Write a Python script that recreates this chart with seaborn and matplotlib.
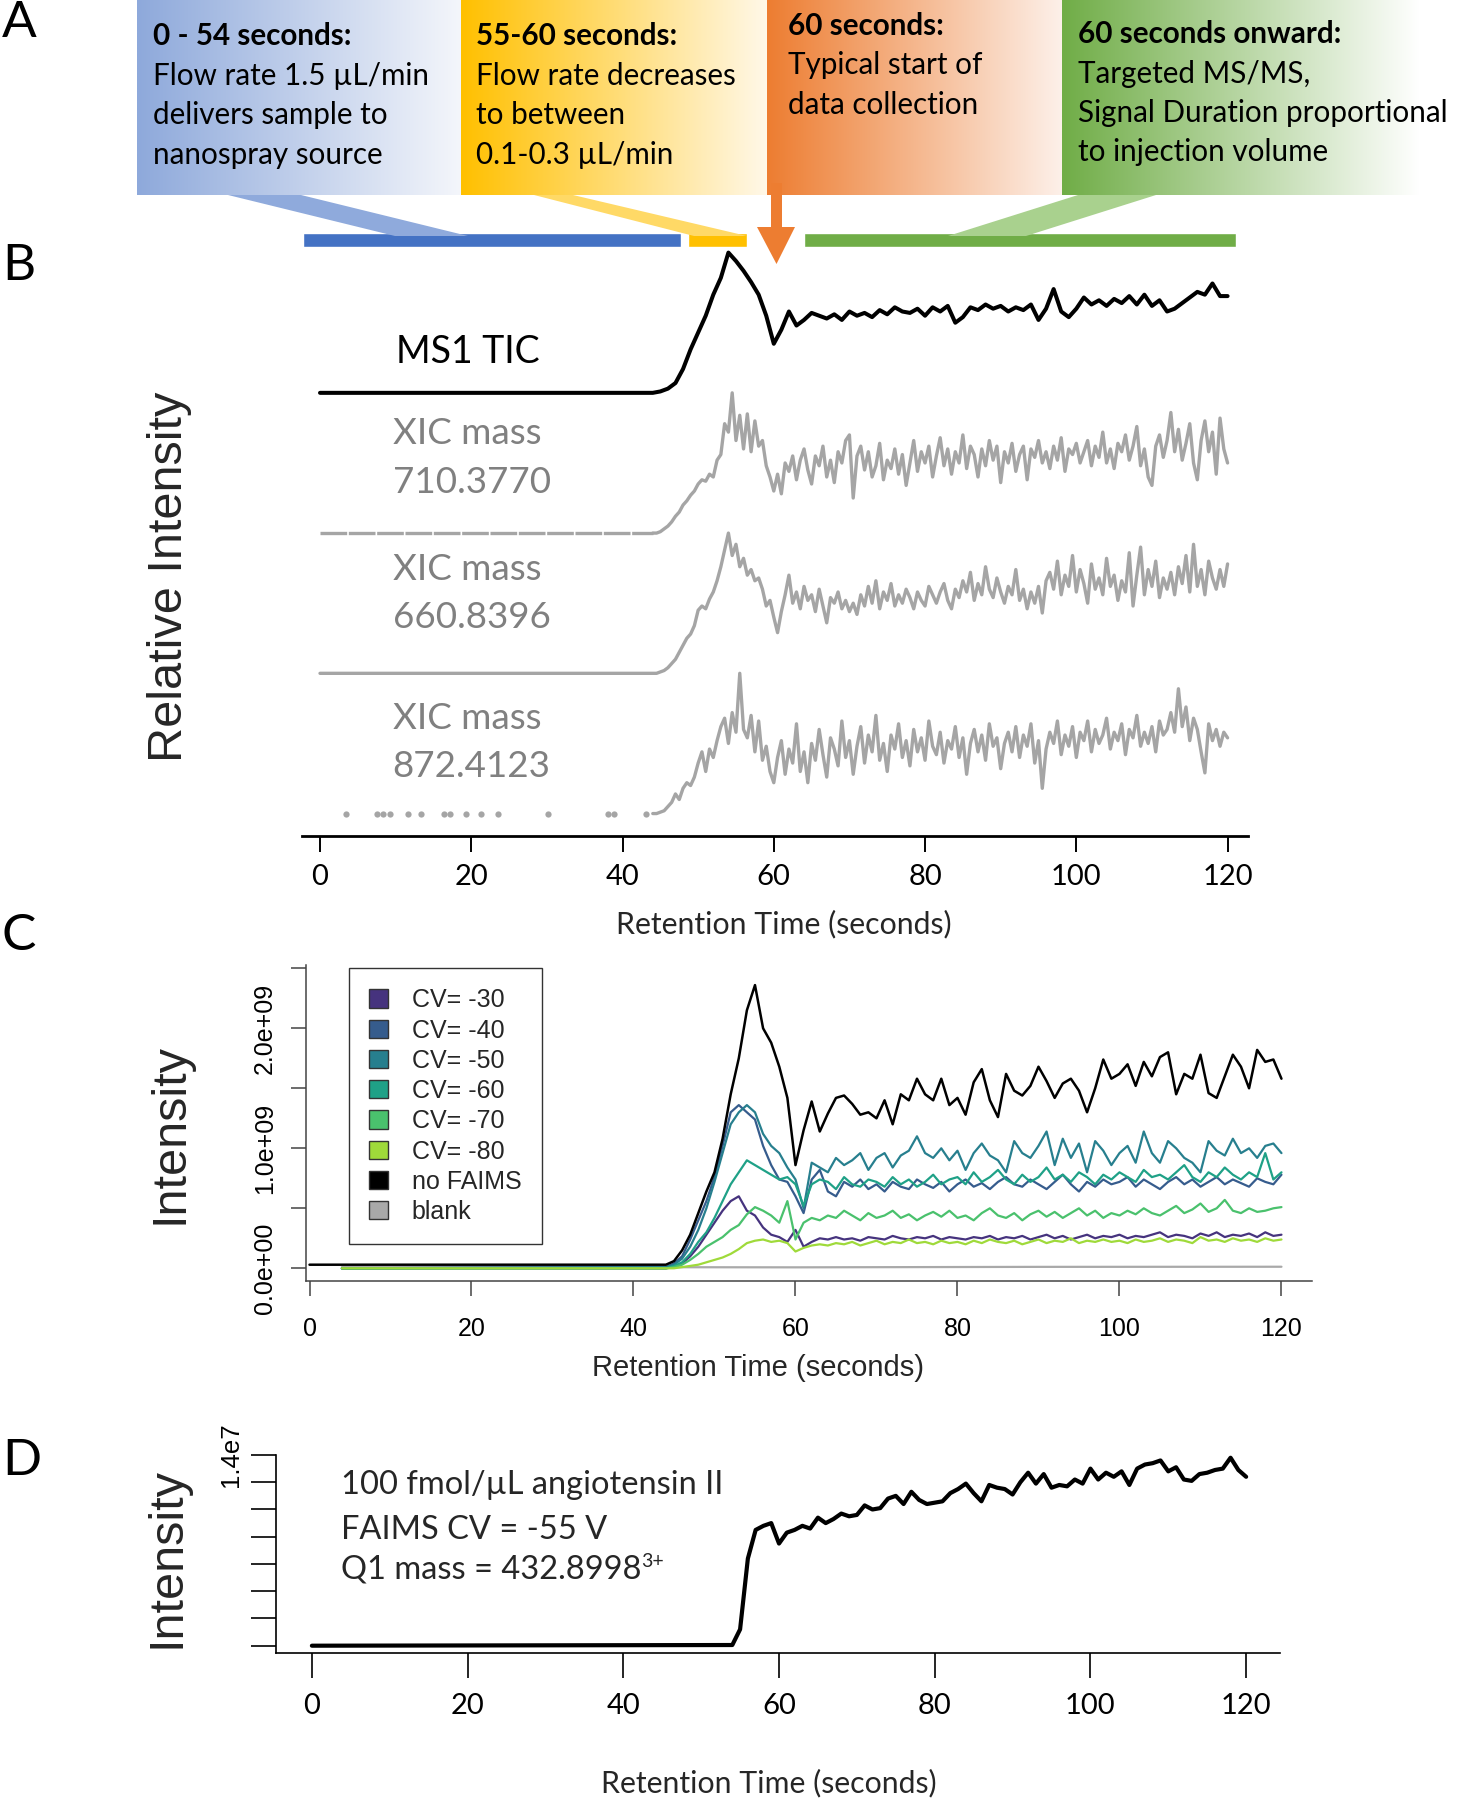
import numpy as np
import matplotlib
matplotlib.use("Agg")
import matplotlib.pyplot as plt
import matplotlib.colors as mcolors
from matplotlib.patches import Patch, Polygon
import seaborn as sns

# -----------------------------
# Data
# -----------------------------
# Panel B: relative intensity, every trace scaled to its own maximum
# TIC sampled every 1 s from 44 s, XICs every 0.5 s from 44 s (flat before)
tic_ms1 = [0.00, 0.01, 0.03, 0.07, 0.17, 0.31, 0.43, 0.55, 0.70, 0.82,
           1.00, 0.94, 0.87, 0.79, 0.70, 0.55, 0.35, 0.45, 0.58, 0.48,
           0.52, 0.57, 0.55, 0.53, 0.56, 0.52, 0.58, 0.55, 0.57, 0.54,
           0.59, 0.56, 0.61, 0.58, 0.57, 0.60, 0.55, 0.61, 0.58, 0.62,
           0.50, 0.54, 0.61, 0.59, 0.63, 0.60, 0.62, 0.58, 0.61, 0.59,
           0.63, 0.52, 0.60, 0.74, 0.58, 0.54, 0.60, 0.68, 0.63, 0.66,
           0.62, 0.67, 0.64, 0.69, 0.63, 0.70, 0.62, 0.66, 0.58, 0.60,
           0.64, 0.68, 0.72, 0.70, 0.78, 0.69, 0.69]

xic_710 = [0.00, 0.00, 0.01, 0.03, 0.05, 0.08, 0.12, 0.15, 0.20, 0.23,
           0.27, 0.30, 0.35, 0.38, 0.37, 0.42, 0.40, 0.52, 0.56, 0.78,
           0.72, 1.00, 0.66, 0.84, 0.60, 0.85, 0.58, 0.80, 0.62, 0.66,
           0.48, 0.40, 0.30, 0.42, 0.28, 0.50, 0.44, 0.55, 0.38, 0.52,
           0.60, 0.45, 0.35, 0.55, 0.48, 0.62, 0.40, 0.52, 0.36, 0.58,
           0.50, 0.66, 0.70, 0.25, 0.55, 0.62, 0.45, 0.58, 0.40, 0.48,
           0.64, 0.38, 0.52, 0.46, 0.60, 0.42, 0.56, 0.34, 0.50, 0.66,
           0.44, 0.58, 0.50, 0.62, 0.40, 0.55, 0.68, 0.48, 0.60, 0.42,
           0.58, 0.50, 0.70, 0.46, 0.62, 0.56, 0.40, 0.60, 0.48, 0.66,
           0.52, 0.62, 0.36, 0.58, 0.50, 0.64, 0.44, 0.56, 0.62, 0.38,
           0.60, 0.54, 0.66, 0.50, 0.58, 0.46, 0.62, 0.52, 0.68, 0.44,
           0.60, 0.56, 0.64, 0.50, 0.58, 0.66, 0.48, 0.62, 0.54, 0.72,
           0.50, 0.60, 0.46, 0.64, 0.58, 0.70, 0.52, 0.62, 0.76, 0.48,
           0.60, 0.40, 0.34, 0.62, 0.70, 0.54, 0.66, 0.86, 0.58, 0.74,
           0.52, 0.64, 0.78, 0.50, 0.38, 0.66, 0.80, 0.58, 0.72, 0.42,
           0.82, 0.60, 0.50]

xic_660 = [0.00, 0.00, 0.01, 0.02, 0.04, 0.07, 0.10, 0.15, 0.20, 0.25,
           0.28, 0.34, 0.45, 0.48, 0.46, 0.53, 0.58, 0.66, 0.76, 0.88,
           1.00, 0.84, 0.92, 0.76, 0.82, 0.70, 0.74, 0.66, 0.68, 0.60,
           0.48, 0.52, 0.40, 0.29, 0.44, 0.56, 0.70, 0.50, 0.58, 0.46,
           0.62, 0.52, 0.56, 0.44, 0.60, 0.48, 0.36, 0.54, 0.50, 0.58,
           0.46, 0.52, 0.44, 0.50, 0.42, 0.56, 0.48, 0.62, 0.50, 0.66,
           0.46, 0.58, 0.52, 0.64, 0.48, 0.56, 0.50, 0.60, 0.54, 0.46,
           0.58, 0.52, 0.48, 0.62, 0.56, 0.50, 0.58, 0.64, 0.52, 0.46,
           0.60, 0.54, 0.66, 0.58, 0.72, 0.52, 0.64, 0.56, 0.76, 0.60,
           0.54, 0.68, 0.58, 0.50, 0.62, 0.56, 0.74, 0.52, 0.60, 0.46,
           0.58, 0.50, 0.62, 0.43, 0.66, 0.72, 0.60, 0.80, 0.56, 0.70,
           0.62, 0.84, 0.58, 0.74, 0.64, 0.50, 0.78, 0.60, 0.68, 0.56,
           0.82, 0.62, 0.70, 0.52, 0.66, 0.58, 0.86, 0.48, 0.70, 0.90,
           0.56, 0.74, 0.62, 0.80, 0.54, 0.68, 0.60, 0.72, 0.56, 0.76,
           0.64, 0.84, 0.58, 0.92, 0.62, 0.74, 0.56, 0.80, 0.68, 0.60,
           0.74, 0.62, 0.78]

xic_872 = [0.00, 0.00, 0.01, 0.02, 0.05, 0.08, 0.14, 0.10, 0.18, 0.22,
           0.20, 0.26, 0.36, 0.44, 0.30, 0.46, 0.40, 0.52, 0.62, 0.68,
           0.50, 0.72, 0.58, 1.00, 0.60, 0.54, 0.70, 0.44, 0.66, 0.38,
           0.48, 0.30, 0.22, 0.40, 0.52, 0.28, 0.46, 0.36, 0.64, 0.30,
           0.44, 0.22, 0.50, 0.38, 0.60, 0.42, 0.26, 0.54, 0.46, 0.34,
           0.66, 0.40, 0.52, 0.28, 0.48, 0.62, 0.36, 0.56, 0.44, 0.70,
           0.38, 0.50, 0.30, 0.56, 0.46, 0.64, 0.40, 0.52, 0.34, 0.60,
           0.44, 0.54, 0.38, 0.66, 0.48, 0.42, 0.58, 0.36, 0.52, 0.46,
           0.62, 0.40, 0.54, 0.28, 0.50, 0.60, 0.44, 0.56, 0.38, 0.64,
           0.48, 0.54, 0.32, 0.50, 0.58, 0.44, 0.62, 0.40, 0.56, 0.48,
           0.64, 0.36, 0.52, 0.18, 0.46, 0.58, 0.50, 0.66, 0.42, 0.56,
           0.48, 0.62, 0.40, 0.58, 0.52, 0.66, 0.44, 0.60, 0.50, 0.56,
           0.68, 0.46, 0.58, 0.52, 0.64, 0.42, 0.60, 0.54, 0.70, 0.48,
           0.58, 0.50, 0.62, 0.44, 0.66, 0.56, 0.60, 0.72, 0.58, 0.89,
           0.62, 0.76, 0.52, 0.68, 0.60, 0.44, 0.29, 0.64, 0.52, 0.60,
           0.48, 0.58, 0.54]
# scattered points on the 872.4123 baseline (seconds)
xic_872_dots = [3.4, 7.5, 8.3, 9.2, 11.7, 13.3, 16.4, 17.2, 19.3, 21.3,
                23.6, 30.1, 38.1, 38.9, 43.1]

b_labels = ["MS1 TIC", "XIC mass\n710.3770", "XIC mass\n660.8396", "XIC mass\n872.4123"]

# phase bars above panel B (seconds)
phase_start = [-2.25, 48.7, 64.0]
phase_end = [47.7, 56.4, 121.1]
phase_colors = ["#4472C4", "#FFC000", "#70AD47"]

# Panel C: intensity in units of 1e9, every 1 s from 44 s
cv_names = ["CV= -30", "CV= -40", "CV= -50", "CV= -60", "CV= -70", "CV= -80"]
cv_colors = ["#46337E", "#365C8D", "#277F8E", "#1FA187", "#4AC16D", "#9FDA3A"]
cv_30 = [0.00, 0.01, 0.04, 0.10, 0.18, 0.28, 0.38, 0.48, 0.56, 0.60,
         0.48, 0.44, 0.34, 0.28, 0.26, 0.22, 0.32, 0.18, 0.22, 0.25,
         0.24, 0.26, 0.24, 0.25, 0.23, 0.26, 0.25, 0.24, 0.27, 0.25,
         0.24, 0.26, 0.25, 0.27, 0.24, 0.26, 0.25, 0.24, 0.26, 0.25,
         0.27, 0.24, 0.26, 0.25, 0.27, 0.24, 0.26, 0.28, 0.25, 0.27,
         0.24, 0.26, 0.28, 0.25, 0.27, 0.26, 0.28, 0.25, 0.27, 0.26,
         0.28, 0.30, 0.26, 0.28, 0.27, 0.25, 0.29, 0.27, 0.30, 0.26,
         0.28, 0.27, 0.29, 0.26, 0.30, 0.27, 0.28]
cv_40 = [0.01, 0.04, 0.10, 0.24, 0.40, 0.56, 0.76, 1.02, 1.30, 1.36,
         1.30, 1.24, 1.02, 0.86, 0.74, 0.72, 0.60, 0.46, 0.74, 0.82,
         0.64, 0.60, 0.72, 0.68, 0.74, 0.66, 0.70, 0.64, 0.72, 0.68,
         0.66, 0.74, 0.70, 0.67, 0.72, 0.64, 0.70, 0.74, 0.68, 0.71,
         0.66, 0.72, 0.76, 0.70, 0.68, 0.74, 0.70, 0.66, 0.72, 0.78,
         0.70, 0.64, 0.72, 0.68, 0.74, 0.70, 0.72, 0.76, 0.68, 0.74,
         0.70, 0.66, 0.72, 0.76, 0.70, 0.74, 0.68, 0.72, 0.76, 0.70,
         0.74, 0.71, 0.68, 0.75, 0.72, 0.70, 0.78]
cv_50 = [0.01, 0.03, 0.08, 0.18, 0.32, 0.50, 0.72, 0.96, 1.20, 1.30,
         1.36, 1.30, 1.12, 1.02, 0.96, 0.84, 0.74, 0.50, 0.88, 0.84,
         0.80, 0.92, 0.86, 0.90, 0.96, 0.82, 0.92, 0.96, 0.84, 0.94,
         0.98, 1.10, 0.96, 0.92, 1.00, 0.90, 0.98, 0.82, 0.96, 1.04,
         0.94, 0.90, 0.80, 1.06, 0.96, 0.92, 1.02, 1.14, 0.86, 1.08,
         0.92, 1.04, 0.80, 1.06, 0.98, 0.86, 0.96, 1.02, 0.88, 1.14,
         0.96, 0.88, 1.06, 1.00, 0.92, 0.88, 0.80, 1.06, 0.98, 0.94,
         1.08, 0.96, 1.00, 0.92, 1.02, 1.04, 0.96]
cv_60 = [0.00, 0.02, 0.05, 0.12, 0.22, 0.30, 0.42, 0.56, 0.70, 0.80,
         0.90, 0.86, 0.82, 0.78, 0.74, 0.76, 0.70, 0.52, 0.70, 0.74,
         0.72, 0.66, 0.76, 0.70, 0.68, 0.74, 0.72, 0.68, 0.76, 0.70,
         0.74, 0.68, 0.72, 0.78, 0.70, 0.74, 0.76, 0.70, 0.80, 0.72,
         0.76, 0.82, 0.74, 0.70, 0.78, 0.72, 0.76, 0.84, 0.74, 0.78,
         0.72, 0.80, 0.76, 0.70, 0.78, 0.74, 0.80, 0.76, 0.72, 0.82,
         0.76, 0.78, 0.74, 0.80, 0.86, 0.76, 0.72, 0.80, 0.76, 0.84,
         0.78, 0.74, 0.80, 0.76, 0.96, 0.74, 0.80]
cv_70 = [0.00, 0.01, 0.03, 0.07, 0.12, 0.18, 0.22, 0.26, 0.32, 0.36,
         0.45, 0.51, 0.48, 0.44, 0.38, 0.56, 0.24, 0.38, 0.42, 0.40,
         0.44, 0.42, 0.48, 0.44, 0.40, 0.46, 0.42, 0.44, 0.48, 0.42,
         0.45, 0.40, 0.44, 0.47, 0.43, 0.48, 0.42, 0.44, 0.40, 0.46,
         0.50, 0.44, 0.42, 0.46, 0.40, 0.45, 0.48, 0.43, 0.47, 0.42,
         0.46, 0.50, 0.44, 0.48, 0.42, 0.46, 0.44, 0.48, 0.45, 0.50,
         0.46, 0.44, 0.48, 0.52, 0.46, 0.49, 0.54, 0.47, 0.50, 0.57,
         0.48, 0.46, 0.50, 0.47, 0.48, 0.50, 0.51]
cv_80 = [0.00, 0.00, 0.01, 0.02, 0.03, 0.05, 0.07, 0.09, 0.12, 0.16,
         0.21, 0.23, 0.24, 0.22, 0.23, 0.21, 0.14, 0.17, 0.19, 0.20,
         0.19, 0.21, 0.20, 0.22, 0.19, 0.21, 0.23, 0.20, 0.22, 0.21,
         0.24, 0.21, 0.22, 0.20, 0.23, 0.21, 0.22, 0.20, 0.23, 0.21,
         0.24, 0.22, 0.21, 0.23, 0.20, 0.22, 0.24, 0.21, 0.23, 0.22,
         0.25, 0.21, 0.23, 0.22, 0.24, 0.22, 0.23, 0.21, 0.24, 0.22,
         0.23, 0.25, 0.22, 0.24, 0.23, 0.21, 0.26, 0.23, 0.24, 0.22,
         0.25, 0.23, 0.24, 0.22, 0.25, 0.23, 0.24]
no_faims = [0.03, 0.06, 0.15, 0.28, 0.46, 0.64, 0.80, 1.08, 1.45, 1.75,
            2.15, 2.36, 2.00, 1.88, 1.68, 1.42, 0.86, 1.15, 1.39, 1.14,
            1.29, 1.42, 1.44, 1.37, 1.28, 1.30, 1.25, 1.40, 1.20, 1.45,
            1.40, 1.58, 1.45, 1.40, 1.58, 1.36, 1.42, 1.28, 1.55, 1.66,
            1.40, 1.26, 1.62, 1.48, 1.44, 1.52, 1.68, 1.56, 1.42, 1.54,
            1.58, 1.48, 1.30, 1.50, 1.74, 1.58, 1.62, 1.70, 1.52, 1.72,
            1.60, 1.76, 1.80, 1.45, 1.62, 1.58, 1.78, 1.46, 1.42, 1.60,
            1.78, 1.68, 1.50, 1.82, 1.72, 1.74, 1.58]
blank_t = [4, 30, 60, 90, 120]
blank = [0.010, 0.010, 0.008, 0.012, 0.013]

# Panel D: intensity in units of 1e7
angio_t = [0, 54] + list(range(55, 121))
angio = [0.0, 0.005,
         0.12, 0.64, 0.85, 0.88, 0.90, 0.75, 0.83, 0.85, 0.88, 0.86,
         0.94, 0.90, 0.93, 0.97, 0.95, 0.96, 1.03, 1.00, 1.01, 1.08,
         1.10, 1.04, 1.13, 1.07, 1.04, 1.05, 1.06, 1.12, 1.15, 1.19,
         1.12, 1.06, 1.18, 1.16, 1.15, 1.11, 1.20, 1.27, 1.19, 1.26,
         1.16, 1.18, 1.17, 1.22, 1.19, 1.30, 1.22, 1.27, 1.24, 1.28,
         1.18, 1.30, 1.33, 1.34, 1.36, 1.28, 1.31, 1.22, 1.21, 1.26,
         1.27, 1.29, 1.30, 1.38, 1.29, 1.24]

# -----------------------------
# Style
# -----------------------------
sns.set_theme(style="white")
plt.rcParams["font.family"] = ["Lato", "DejaVu Sans"]
ARIAL = ["Liberation Sans", "DejaVu Sans"]
GRAY = "#A5A5A5"

W, H = 1457, 1800
fig = plt.figure(figsize=(W / 100, H / 100), dpi=100)


def px_axes(x0, y0, x1, y1):
    return fig.add_axes([x0 / W, 1 - y1 / H, (x1 - x0) / W, (y1 - y0) / H])


def line(ax, t, v, **kw):
    sns.lineplot(x=np.asarray(t, float), y=np.asarray(v, float), ax=ax,
                 estimator=None, sort=False, legend=False, **kw)


# -----------------------------
# Panel B
# -----------------------------
axb = px_axes(302, 247, 1248, 836)
t1 = 44 + 1.0 * np.arange(len(tic_ms1))
t05 = 44 + 0.5 * np.arange(len(xic_710))

line(axb, np.r_[0, t1], np.r_[0, tic_ms1] + 3, color="black", linewidth=2.9)
axb.plot([0, 44], [2, 2], color=GRAY, lw=2.4, dashes=(8, 0.5), solid_capstyle="butt")
line(axb, t05, np.array(xic_710) + 2, color=GRAY, linewidth=2.4)
line(axb, np.r_[0, t05], np.r_[0, xic_660] + 1, color=GRAY, linewidth=2.4)
line(axb, t05, np.array(xic_872), color=GRAY, linewidth=2.4)
axb.plot(xic_872_dots, np.zeros(len(xic_872_dots)), "o", color=GRAY, ms=4.5, mec="none")

axb.broken_barh([(s, e - s) for s, e in zip(phase_start, phase_end)], (4.04, 0.10),
                facecolors=phase_colors, clip_on=False)

axb.set_xlim(-2.38, 122.7)
axb.set_ylim(-0.16, 4.04)
axb.set_yticks([])
axb.set_xticks(range(0, 121, 20))
for s in ["top", "right", "left"]:
    axb.spines[s].set_visible(False)
axb.spines["bottom"].set_color("black")
axb.spines["bottom"].set_linewidth(2)
axb.tick_params(axis="x", bottom=True, direction="out", length=11.5, width=1.4,
                color="black", labelsize=21, pad=9, labelcolor="black")

axb.text(10.0, 3.29, "MS1 TIC", fontsize=27, va="center", ha="left", color="black")
for off, l1, l2 in [(2, 0.707, 0.36), (1, 0.743, 0.40), (0, 0.68, 0.333)]:
    lab = b_labels[3 - off].split("\n")
    axb.text(9.6, off + l1, lab[0], fontsize=26.5, va="center", ha="left", color="#808080")
    axb.text(9.6, off + l2, lab[1], fontsize=26.5, va="center", ha="left", color="#808080")

fig.text(784 / W, 1 - 924 / H, "Retention Time (seconds)", fontsize=21.8,
         ha="center", va="center")
fig.text(170 / W, 1 - 577 / H, "Relative Intensity", fontsize=35, family=ARIAL,
         rotation=90, ha="center", va="center")

# -----------------------------
# Panel C
# -----------------------------
axc = px_axes(305.7, 965, 1312, 1281)
tc = 44 + 1.0 * np.arange(len(no_faims))
line(axc, blank_t, np.array(blank) * 1e9, color="#A9A9A9", linewidth=1.6)
for vals, col in zip([cv_30, cv_40, cv_50, cv_60, cv_70, cv_80], cv_colors):
    line(axc, np.r_[4, tc], np.r_[0, vals] * 1e9, color=col, linewidth=1.6)
line(axc, np.r_[0, tc], np.r_[0.03, no_faims] * 1e9, color="black", linewidth=1.8)

axc.set_xlim(-0.47, 123.77)
axc.set_ylim(-0.1058e9, 2.5275e9)
axc.set_xticks(range(0, 121, 20))
axc.set_yticks(np.arange(0, 2.51e9, 0.5e9))
axc.set_yticklabels(["0.0e+00", "", "1.0e+09", "", "2.0e+09", ""])
for s in ["top", "right"]:
    axc.spines[s].set_visible(False)
for s in ["left", "bottom"]:
    axc.spines[s].set_color("#444444")
    axc.spines[s].set_linewidth(1.1)
axc.tick_params(axis="both", bottom=True, left=True, direction="out", length=10.8,
                width=1.1, color="#444444", labelsize=18, labelfontfamily="Liberation Sans",
                labelcolor="black")
axc.tick_params(axis="x", pad=15)
axc.tick_params(axis="y", pad=10, labelrotation=90)
for lab in axc.get_yticklabels():
    lab.set_va("center")

handles = [Patch(facecolor=c, edgecolor="#333333", linewidth=1) for c in cv_colors]
handles += [Patch(facecolor="black", edgecolor="#333333", linewidth=1),
            Patch(facecolor="#A9A9A9", edgecolor="#333333", linewidth=1)]
leg = axc.legend(handles, cv_names + ["no FAIMS", "blank"], loc="upper left",
                 bbox_to_anchor=(349.3 / W, 1 - 968.3 / H), bbox_transform=fig.transFigure,
                 borderaxespad=0, frameon=True, fancybox=False, framealpha=1,
                 edgecolor="#333333", prop={"family": ARIAL, "size": 18},
                 handlelength=0.75, handleheight=0.75, handletextpad=0.95,
                 labelspacing=0.25, borderpad=0.8)
leg.get_frame().set_linewidth(1.0)

fig.text(758 / W, 1 - 1368 / H, "Retention Time (seconds)", fontsize=21, family=ARIAL,
         ha="center", va="center")
fig.text(170 / W, 1 - 1133 / H, "Intensity", fontsize=35, family=ARIAL,
         rotation=90, ha="center", va="center")

# -----------------------------
# Panel D
# -----------------------------
axd = px_axes(276, 1455, 1280, 1652.7)
line(axd, angio_t, np.array(angio) * 1e7, color="black", linewidth=3.0)
axd.set_xlim(-4.61, 124.35)
axd.set_ylim(-0.0514e7, 1.4e7)
axd.set_xticks(range(0, 121, 20))
axd.set_yticks(np.arange(0, 1.41e7, 0.2e7))
axd.set_yticklabels([""] * 7 + ["1.4e7"])
for s in ["top", "right"]:
    axd.spines[s].set_visible(False)
for s in ["left", "bottom"]:
    axd.spines[s].set_color("black")
    axd.spines[s].set_linewidth(1.2)
axd.tick_params(axis="both", bottom=True, left=True, direction="out", length=18,
                width=1.2, color="black", labelcolor="black")
axd.tick_params(axis="x", labelsize=21, pad=11)
axd.tick_params(axis="y", labelsize=18.5, labelfontfamily="Liberation Sans",
                labelrotation=90, pad=6)
for lab in axd.get_yticklabels():
    lab.set_va("center")

axd.text(3.74, 1.18e7, "100 fmol/\u00b5L angiotensin II", fontsize=23.5, va="center")
axd.text(3.74, 0.851e7, "FAIMS CV = -55 V", fontsize=23.5, va="center")
q1 = axd.text(3.74, 0.557e7, "Q1 mass = 432.8998", fontsize=23.5, va="center")
axd.annotate("3+", xy=(1, 1), xycoords=q1, xytext=(0, 1), textcoords="offset points",
             fontsize=14, ha="left", va="top")

fig.text(769 / W, 1 - 1783 / H, "Retention Time (seconds)", fontsize=21.8,
         ha="center", va="center")
fig.text(167 / W, 1 - 1558 / H, "Intensity", fontsize=35, family=ARIAL,
         rotation=90, ha="center", va="center")

# -----------------------------
# Panel A (schematic boxes drawn in pixel space)
# -----------------------------
ov = fig.add_axes([0, 0, 1, 1])
ov.patch.set_alpha(0)


def grad_box(x0, x1, y0, y1, c_left, c_right):
    c0 = np.array(mcolors.to_rgb(c_left))
    c1 = np.array(mcolors.to_rgb(c_right))
    g = np.linspace(0, 1, 256)[None, :, None]
    ov.imshow(c0 + (c1 - c0) * g, extent=(x0, x1, y1, y0), aspect="auto",
              interpolation="bilinear")


grad_box(137, 461, 0, 195, "#8EA9DB", "#F4F6FB")
grad_box(461, 767, 0, 195, "#FFC000", "#FFF8E8")
grad_box(767, 1062, 0, 195, "#ED7D31", "#FDF0E9")
grad_box(1062, 1420, 0, 195, "#70AD47", "#FFFFFF")

ov.add_patch(Polygon([(228, 195), (301, 195), (468, 236), (395, 236)], closed=True,
                     facecolor="#8FAADC", edgecolor="none"))
ov.add_patch(Polygon([(534, 195), (573, 195), (747, 236), (694, 236)], closed=True,
                     facecolor="#FFD966", edgecolor="none"))
ov.add_patch(Polygon([(1078, 195), (1156, 195), (1026, 236), (948, 236)], closed=True,
                     facecolor="#A9D18E", edgecolor="none"))
ov.add_patch(Polygon([(771, 183), (782, 183), (782, 227), (795, 227), (776.5, 264),
                      (757, 227), (771, 227)], closed=True,
                     facecolor="#ED7D31", edgecolor="none"))

box_text = [
    (153, [35.6, 75.8, 114.8, 155.0], ["0 - 54 seconds:", "Flow rate 1.5 \u00b5L/min",
                                       "delivers sample to", "nanospray source"]),
    (476, [35.6, 75.8, 114.8, 155.0], ["55-60 seconds:", "Flow rate decreases",
                                       "to between", "0.1-0.3 \u00b5L/min"]),
    (788, [26.0, 65.4, 104.5], ["60 seconds:", "Typical start of", "data collection"]),
    (1078, [34.0, 73.5, 113.0, 152.0], ["60 seconds onward:", "Targeted MS/MS,",
                                        "Signal Duration proportional",
                                        "to injection volume"]),
]
for x, ys, lines in box_text:
    for i, (y, s) in enumerate(zip(ys, lines)):
        ov.text(x, y, s, fontsize=21.3, va="center", ha="left",
                fontweight="bold" if i == 0 else "normal", color="black")

for lab, y in [("A", 23), ("B", 266), ("C", 936), ("D", 1461)]:
    ov.text(2, y, lab, fontsize=37, va="center", ha="left", color="black")

ov.set_xlim(0, W)
ov.set_ylim(H, 0)
ov.axis("off")

fig.savefig("out.png", dpi=100)
